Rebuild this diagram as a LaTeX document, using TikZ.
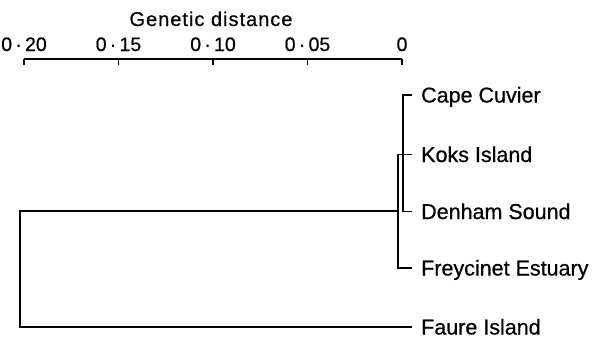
\documentclass[tikz,border=0pt]{standalone}
\usepackage{fontspec}
\setmainfont{Liberation Sans}[FakeBold=0.6]
\newfontfamily\headfont{Liberation Sans}[LetterSpace=5,FakeBold=0.6]
\begin{document}
\begin{tikzpicture}[x=1pt,y=-1pt,
  branch/.style={line width=1.8pt},
  axisline/.style={line width=1.6pt},
  tickmark/.style={line width=1.4pt},
  scalenum/.style={anchor=base,inner sep=0pt,font=\fontsize{19.5}{22}\selectfont},
  leaflabel/.style={anchor=base west,inner sep=0pt,font=\fontsize{21.5}{25}\selectfont},
  headlabel/.style={anchor=base,inner sep=0pt,font=\headfont\fontsize{20}{24}\selectfont}]
\useasboundingbox (0,0) rectangle (592,338);

% distance scale
\coordinate (t20) at (24,59);
\coordinate (t15) at (118.5,59);
\coordinate (t10) at (213,59);
\coordinate (t05) at (307.5,59);
\coordinate (t00) at (402,59);
\draw[axisline] (t20) -- (t00);
\foreach \t in {t20,t15,t10,t05,t00}
  \draw[tickmark] (\t) -- ++(0,5.5);
\node[scalenum] (n20) at (24,51) {0\,·\,20};
\node[scalenum] (n15) at (118.5,51) {0\,·\,15};
\node[scalenum] (n10) at (213,51) {0\,·\,10};
\node[scalenum] (n05) at (307.5,51) {0\,·\,05};
\node[scalenum] (n00) at (402,51) {0};
\node[headlabel] (head) at (211,26) {Genetic distance};

% leaf ends
\coordinate (cc) at (412,95);
\coordinate (ko) at (412,154.5);
\coordinate (dh) at (412,211.5);
\coordinate (fe) at (412,268);
\coordinate (fa) at (412,327);

% leaf labels
\node[leaflabel] (lcc) at (421,102.5) {Cape Cuvier};
\node[leaflabel] (lko) at (421,162) {Koks Island};
\node[leaflabel] (ldh) at (421,219) {Denham Sound};
\node[leaflabel] (lfe) at (421,275.5) {Freycinet Estuary};
\node[leaflabel] (lfa) at (421,334.5) {Faure Island};

% junctions
\coordinate (j1) at (403,153);
\coordinate (j2) at (398,211.25);
\coordinate (root) at (20,270);

\draw[branch] (cc) -| (j1) |- (dh);
\draw[branch] (ko) -- ++(-15,0);
\draw[branch] (ko) -| (j2) |- (fe);
\draw[branch] (j2) -| (root) |- (fa);
\end{tikzpicture}
\end{document}
